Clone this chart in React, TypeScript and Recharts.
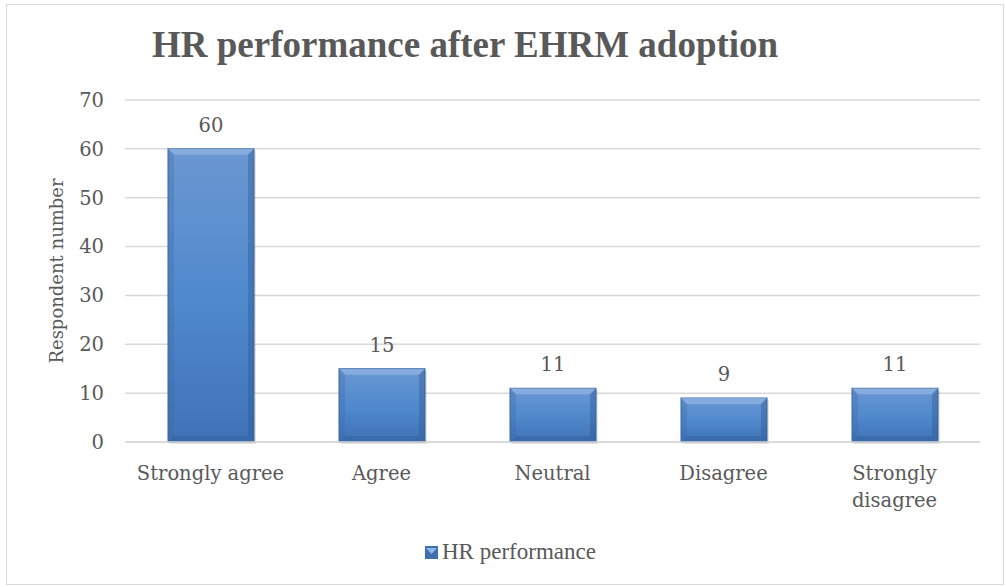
import React from 'react';
import { BarChart, Bar, XAxis, YAxis, CartesianGrid, LabelList } from 'recharts';

const categories = ['Strongly agree', 'Agree', 'Neutral', 'Disagree', 'Strongly disagree'];
const values = [60, 15, 11, 9, 11];
const yTicks = [0, 10, 20, 30, 40, 50, 60, 70];
const seriesName = 'HR performance';
const title = 'HR performance after EHRM adoption';
const yLabel = 'Respondent number';

const data = categories.map((c, i) => ({ name: c, value: values[i] }));

const W = 1006;
const H = 587;
const tickFont = '"DejaVu Serif", serif';
const textColor = '#595959';

const BevelBar = (props: any) => {
  const { x, y, width, height } = props;
  if (!height || height <= 0) return null;
  const b = Math.min(6, height / 3, width / 4);
  return (
    <g>
      <rect x={x + 2} y={y + 2} width={width} height={height} fill="rgba(0,0,0,0.10)" />
      <rect x={x} y={y} width={width} height={height} fill="url(#barGrad)" stroke="#3a679f" strokeWidth={1} />
      <polygon points={`${x},${y} ${x + width},${y} ${x + width - b},${y + b} ${x + b},${y + b}`} fill="#9bbde8" opacity={0.6} />
      <polygon points={`${x},${y + height} ${x + width},${y + height} ${x + width - b},${y + height - b} ${x + b},${y + height - b}`} fill="#2f5a92" opacity={0.35} />
      <polygon points={`${x},${y} ${x + b},${y + b} ${x + b},${y + height - b} ${x},${y + height}`} fill="#3a68a8" opacity={0.3} />
      <polygon points={`${x + width},${y} ${x + width - b},${y + b} ${x + width - b},${y + height - b} ${x + width},${y + height}`} fill="#2d5890" opacity={0.4} />
    </g>
  );
};

const XTick = (props: any) => {
  const { x, y, payload } = props;
  const label: string = payload.value;
  const lines = label.length > 14 ? label.split(' ') : [label];
  return (
    <text x={x} y={y} textAnchor="middle" fill={textColor} fontFamily={tickFont} fontSize={19.5}>
      {lines.map((l, i) => (
        <tspan key={i} x={x} dy={i === 0 ? '0.71em' : '1.38em'}>{l}</tspan>
      ))}
    </text>
  );
};

export default function App() {
  return (
    <div style={{ position: 'absolute', left: 0, top: 0, width: W, height: H, background: '#fff' }}>
      <div style={{ position: 'absolute', left: 6, top: 4, width: 998, height: 581, border: '1px solid #d9d9d9', boxSizing: 'border-box' }} />
      <div style={{ position: 'absolute', left: 152, top: 23, fontFamily: '"Liberation Serif", serif', fontWeight: 'bold', fontSize: 37, color: textColor, whiteSpace: 'nowrap' }}>
        {title}
      </div>
      <div style={{ position: 'absolute', left: 56, top: 271, transform: 'translate(-50%, -50%) rotate(-90deg)', fontFamily: tickFont, fontSize: 18, color: textColor, whiteSpace: 'nowrap' }}>
        {yLabel}
      </div>
      <div style={{ position: 'absolute', left: 0, top: 0 }}>
        <BarChart width={W} height={H} data={data} margin={{ top: 100, right: 26, bottom: 115, left: 0 }}>
          <defs>
            <linearGradient id="barGrad" x1="0" y1="0" x2="0" y2="1">
              <stop offset="0%" stopColor="#6b97d2" />
              <stop offset="50%" stopColor="#508acd" />
              <stop offset="100%" stopColor="#3f72b6" />
            </linearGradient>
          </defs>
          <CartesianGrid vertical={false} stroke="#d9d9d9" strokeWidth={1.5} />
          <XAxis dataKey="name" axisLine={{ stroke: '#d9d9d9', strokeWidth: 1.5 }} tickLine={false} tick={<XTick />} tickMargin={18} interval={0} height={30} />
          <YAxis domain={[0, 70]} ticks={yTicks} width={125} axisLine={false} tickLine={false} tickMargin={15} tick={{ fill: textColor, fontFamily: tickFont, fontSize: 19.5 }} />
          <Bar dataKey="value" name={seriesName} barSize={86} shape={<BevelBar />} isAnimationActive={false}>
            <LabelList dataKey="value" position="top" offset={17} fill={textColor} fontFamily={tickFont} fontSize={19.5} />
          </Bar>
        </BarChart>
      </div>
      <div style={{ position: 'absolute', left: 425, top: 539, display: 'flex', alignItems: 'center', fontFamily: '"Liberation Serif", serif', fontSize: 23, color: textColor, whiteSpace: 'nowrap' }}>
        <svg width={13} height={13} style={{ marginRight: 4 }}>
          <rect x={0} y={0} width={13} height={13} fill="#3f6fae" />
          <polygon points="1,2 12,2 6.5,8" fill="#8fb8ea" />
        </svg>
        <span>{seriesName}</span>
      </div>
    </div>
  );
}
